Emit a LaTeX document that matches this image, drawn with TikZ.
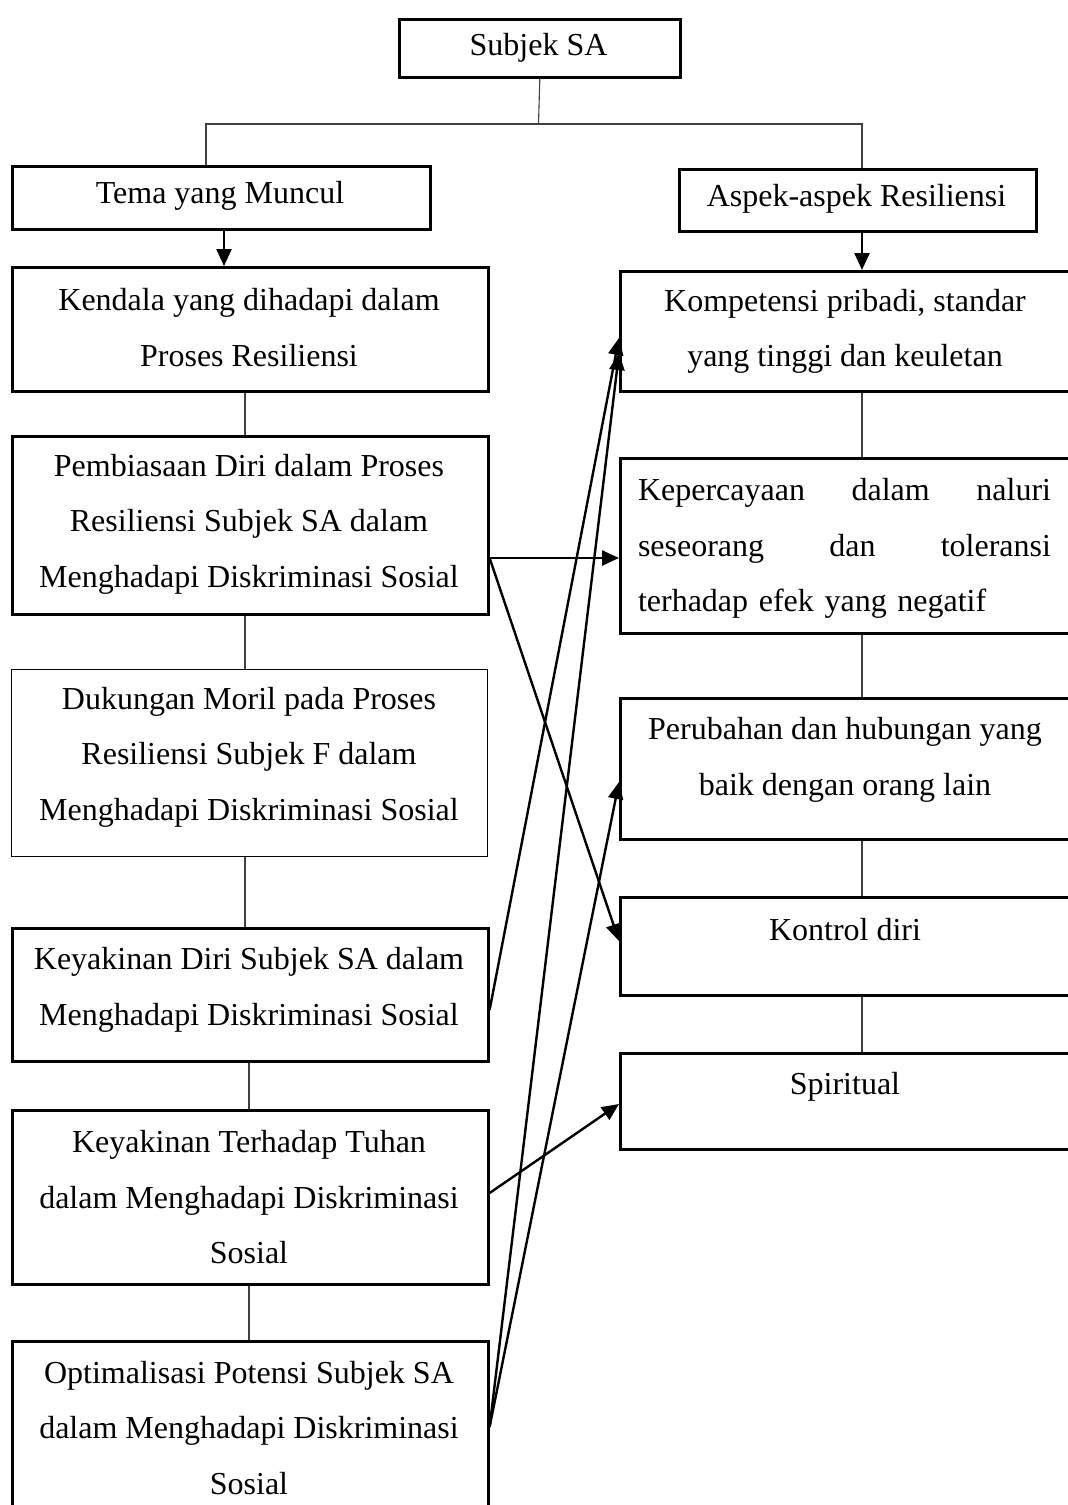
\documentclass[tikz,border=0pt]{standalone}
\usepackage{fontspec}
\setmainfont{Liberation Serif}
\usetikzlibrary{arrows.meta,calc}
\begin{document}
\begin{tikzpicture}[x=1pt,y=-1pt,
  box/.style={draw, line width=2.6pt, rectangle, anchor=north west, inner sep=0pt},
  thinbox/.style={box, line width=1.2pt},
  txt/.style={font=\fontsize{32}{55.5}\selectfont, align=center, inner sep=0pt},
  one/.style={text height=22pt, text depth=7pt},
  conn/.style={line width=1.1pt, black!75},
  arr/.style={line width=2.4pt, -{Triangle[length=17pt,width=15pt]}}]
\useasboundingbox (0,0) rectangle (1068,1505);
\fill[white] (0,0) rectangle (1068,1505);
\clip (0,0) rectangle (1068,1505);

% boxes
\node[box, minimum width=281pt, minimum height=58pt] (subjek) at (398,18) {};
\node[box, minimum width=418pt, minimum height=63pt] (tema) at (11,165) {};
\node[box, minimum width=357pt, minimum height=62pt] (aspek) at (678,168) {};
\node[box, minimum width=476pt, minimum height=124pt] (kendala) at (11,266) {};
\node[box, minimum width=476pt, minimum height=178pt] (pembiasaan) at (11,435) {};
\node[thinbox, minimum width=476pt, minimum height=187pt] (dukungan) at (11,669) {};
\node[box, minimum width=476pt, minimum height=133pt] (keyakinan) at (11,927) {};
\node[box, minimum width=476pt, minimum height=174pt] (tuhan) at (11,1109) {};
\node[box, minimum width=476pt, minimum height=200pt] (optimal) at (11,1340) {};
\node[box, minimum width=452pt, minimum height=120pt] (kompetensi) at (619,270) {};
\node[box, minimum width=452pt, minimum height=175pt] (kepercayaan) at (619,457) {};
\node[box, minimum width=452pt, minimum height=141pt] (perubahan) at (619,697) {};
\node[box, minimum width=452pt, minimum height=98pt] (kontrol) at (619,896) {};
\node[box, minimum width=452pt, minimum height=96pt] (spiritual) at (619,1052) {};

% texts
\node[txt, one] (subjek-t) at (538.5,48) {Subjek SA};
\node[txt, one] (tema-t) at (220,196) {Tema yang Muncul};
\node[txt, one] (aspek-t) at (856.5,199) {Aspek-aspek Resiliensi};
\node[txt] (kendala-t) at (249,327.5) {Kendala yang dihadapi dalam\\Proses Resiliensi};
\node[txt] (pembiasaan-t) at (249,524) {Pembiasaan Diri dalam Proses\\Resiliensi Subjek SA dalam\\Menghadapi Diskriminasi Sosial};
\node[txt] (dukungan-t) at (249,757) {Dukungan Moril pada Proses\\Resiliensi Subjek F dalam\\Menghadapi Diskriminasi Sosial};
\node[txt] (keyakinan-t) at (249,990) {Keyakinan Diri Subjek SA dalam\\Menghadapi Diskriminasi Sosial};
\node[txt] (tuhan-t) at (249,1197.5) {Keyakinan Terhadap Tuhan\\dalam Menghadapi Diskriminasi\\Sosial};
\node[txt] (optimal-t) at (249,1428) {Optimalisasi Potensi Subjek SA\\dalam Menghadapi Diskriminasi\\Sosial};
\node[txt] (kompetensi-t) at (845,331.5) {Kompetensi pribadi, standar\\yang tinggi dan keuletan};
\node[txt, text width=413pt, align=left] (kepercayaan-t) at (844.5,548.5)
  {Kepercayaan\hspace{0pt plus 1filll}dalam\hspace{0pt plus 1filll}naluri\\
   seseorang\hspace{0pt plus 1filll}dan\hspace{0pt plus 1filll}toleransi\\
   terhadap efek yang negatif\hspace{0pt plus 1filll}};
\node[txt] (perubahan-t) at (845,760) {Perubahan dan hubungan yang\\baik dengan orang lain};
\node[txt, one] (kontrol-t) at (845,933) {Kontrol diri};
\node[txt, one] (spiritual-t) at (845,1087) {Spiritual};

% tree connectors
\coordinate (jn) at (538.5,124);
\draw[conn] (subjek.south) -- (jn);
\draw[conn] (tema.north -| 206,0) |- (jn) -| (aspek.north -| 862,0);
\draw[conn] (kendala.south -| 245,0) -- (pembiasaan.north -| 245,0);
\draw[conn] (pembiasaan.south -| 245,0) -- (dukungan.north -| 245,0);
\draw[conn] (dukungan.south -| 245,0) -- (keyakinan.north -| 245,0);
\draw[conn] (keyakinan.south -| 249,0) -- (tuhan.north -| 249,0);
\draw[conn] (tuhan.south -| 249,0) -- (optimal.north -| 249,0);
\draw[conn] (kompetensi.south -| 862,0) -- (kepercayaan.north -| 862,0);
\draw[conn] (kepercayaan.south -| 862,0) -- (perubahan.north -| 862,0);
\draw[conn] (perubahan.south -| 862,0) -- (kontrol.north -| 862,0);
\draw[conn] (kontrol.south -| 862,0) -- (spiritual.north -| 862,0);

% arrows
\draw[arr] (tema.south -| 224,0) -- (kendala.north -| 224,0);
\draw[arr] (aspek.south -| 862,0) -- (kompetensi.north -| 862,0);
\draw[arr] (pembiasaan.east |- 0,558) -- (kepercayaan.west |- 0,558);
\draw[arr] (pembiasaan.east |- 0,558) -- (kontrol.west |- 0,941);
\draw[arr] (keyakinan.east |- 0,1010) -- (kompetensi.west |- 0,338);
\draw[arr] (optimal.east |- 0,1427) -- (kompetensi.west |- 0,353);
\draw[arr] (optimal.east |- 0,1427) -- (perubahan.west |- 0,782);
\draw[arr] (tuhan.east |- 0,1193) -- (spiritual.west |- 0,1104);
\end{tikzpicture}
\end{document}
